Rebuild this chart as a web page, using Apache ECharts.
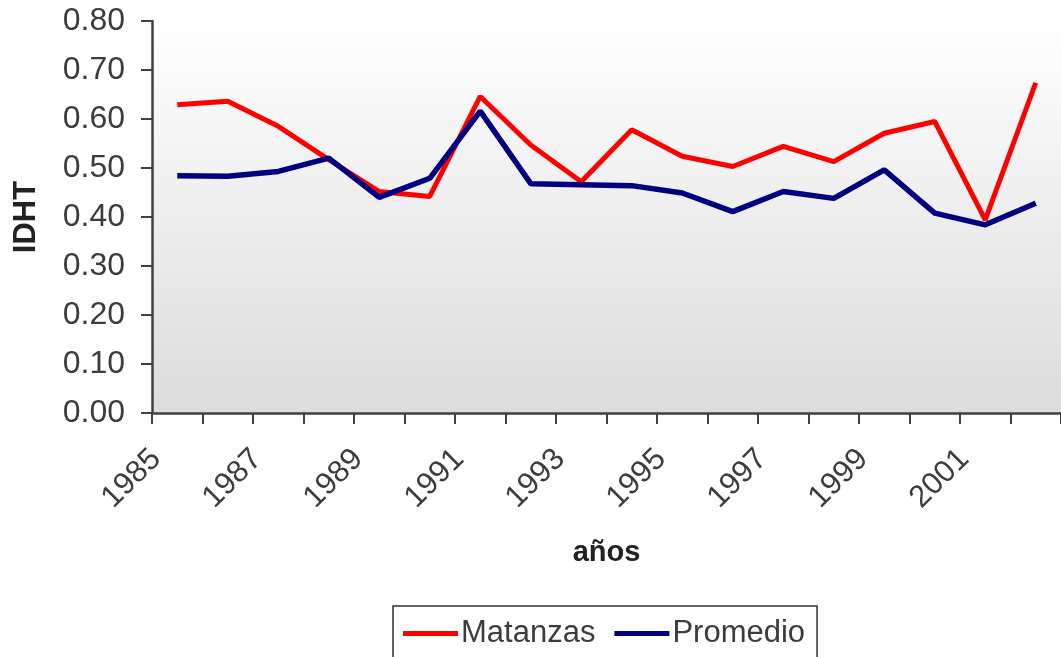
<!DOCTYPE html>
<html>
<head>
<meta charset="utf-8">
<script src="https://cdn.jsdelivr.net/npm/echarts@6/dist/echarts.min.js"></script>
<style>
html,body{margin:0;padding:0;background:#fff;}
#chart{width:1061px;height:657px;}
</style>
</head>
<body>
<div id="chart"></div>
<script>
const years = ['1985','1986','1987','1988','1989','1990','1991','1992','1993','1994','1995','1996','1997','1998','1999','2000','2001','2002'];
const matanzas = [0.629,0.636,0.585,0.517,0.452,0.442,0.646,0.547,0.472,0.578,0.524,0.503,0.544,0.513,0.571,0.595,0.394,0.674];
const promedio = [0.484,0.483,0.493,0.520,0.440,0.479,0.616,0.468,0.466,0.464,0.449,0.411,0.452,0.438,0.496,0.408,0.384,0.428];
const yTicks = [0,0.1,0.2,0.3,0.4,0.5,0.6,0.7,0.8];

const FONT = '"Liberation Sans", Arial, sans-serif';
const TXT = '#3c3c3c';
const AX = '#404040';

const chart = echarts.init(document.getElementById('chart'), null, {renderer:'canvas'});
chart.setOption({
  animation:false,
  backgroundColor:'#ffffff',
  textStyle:{fontFamily:FONT},
  grid:{
    left:152, top:21, right:-7, bottom:244,
    show:true, borderWidth:0,
    backgroundColor:{type:'linear',x:0,y:0,x2:0,y2:1,colorStops:[{offset:0,color:'#ffffff'},{offset:1,color:'#dcdcdc'}]}
  },
  legend:{
    data:['Matanzas','Promedio'],
    left:393, top:606,
    padding:[12,12,30,10],
    itemGap:19,
    itemWidth:55, itemHeight:5,
    icon:'rect',
    borderColor:'#333', borderWidth:1.5,
    backgroundColor:'#fff',
    borderRadius:0,
    textStyle:{fontFamily:FONT, fontSize:31, color:TXT, padding:[0,0,0,-2]}
  },
  xAxis:{
    type:'category',
    data:years,
    boundaryGap:true,
    name:'años',
    nameLocation:'middle',
    nameGap:125,
    nameTextStyle:{fontFamily:FONT, fontSize:29, fontWeight:'bold', color:'#222'},
    axisLine:{lineStyle:{color:AX, width:2.5}},
    axisTick:{show:true, length:11, inside:false, interval:0, lineStyle:{color:AX, width:2}},
    axisLabel:{interval:1, rotate:45, fontSize:31, color:TXT, fontFamily:FONT, margin:20, padding:[0,30,0,0]},
    splitLine:{show:false}
  },
  yAxis:{
    type:'value',
    min:0, max:0.8, interval:0.1,
    name:'IDHT',
    nameLocation:'middle',
    nameGap:110,
    nameTextStyle:{fontFamily:FONT, fontSize:31, fontWeight:'bold', color:'#222'},
    axisLine:{show:true, lineStyle:{color:AX, width:2.5}},
    axisTick:{show:true, length:11, lineStyle:{color:AX, width:2}},
    axisLabel:{fontSize:32, color:TXT, fontFamily:FONT, margin:27, formatter:v=>yTicks.includes(Math.round(v*10)/10)?v.toFixed(2):''},
    splitLine:{show:false}
  },
  series:[
    {name:'Matanzas', type:'line', data:matanzas, symbol:'none', smooth:false,
     lineStyle:{color:'#ff0000', width:5}, itemStyle:{color:'#ff0000'}},
    {name:'Promedio', type:'line', data:promedio, symbol:'none', smooth:false,
     lineStyle:{color:'#000080', width:5.5}, itemStyle:{color:'#000080'}}
  ]
});
</script>
</body>
</html>
